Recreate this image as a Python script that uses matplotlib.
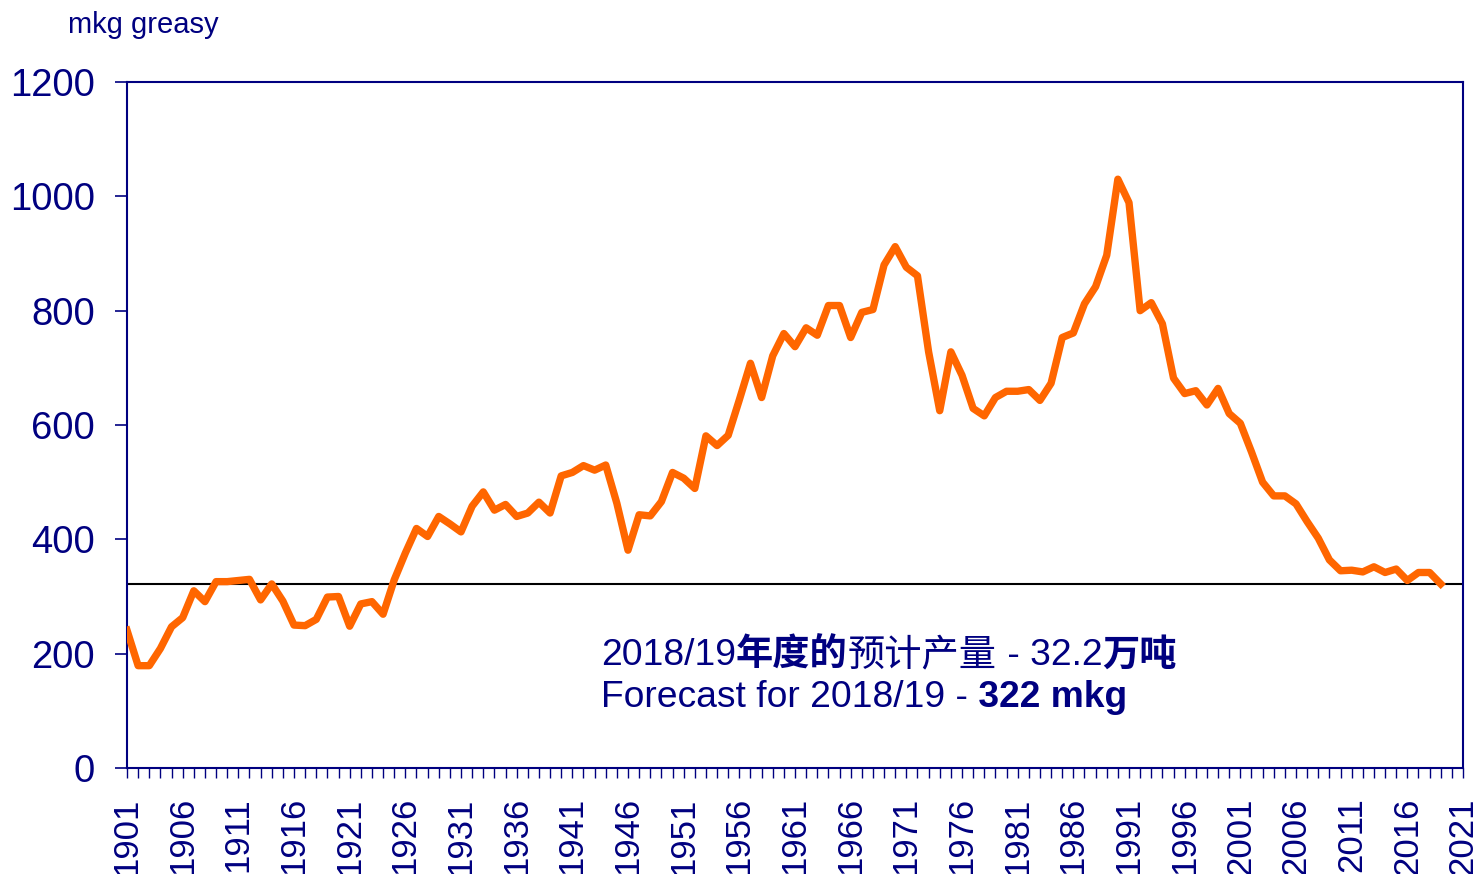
import matplotlib
matplotlib.use("Agg")
import matplotlib.pyplot as plt
from matplotlib.ticker import MultipleLocator, FixedLocator
from matplotlib.offsetbox import TextArea, HPacker, VPacker, AnnotationBbox

years = list(range(1901, 2020))
production = [
    241, 179, 179, 209, 247, 263, 310, 291, 326, 326,
    328, 330, 294, 322, 292, 250, 249, 260, 299, 300,
    248, 287, 291, 269, 329, 376, 419, 405, 440, 427,
    413, 458, 483, 451, 461, 440, 446, 465, 446, 511,
    517, 529, 521, 530, 463, 381, 443, 441, 466, 517,
    507, 489, 581, 564, 582, 644, 708, 648, 721, 760,
    737, 770, 757, 809, 809, 753, 797, 802, 880, 912,
    876, 861, 728, 625, 728, 687, 629, 616, 648, 659,
    659, 662, 643, 673, 753, 761, 812, 842, 897, 1030,
    989, 800, 814, 777, 682, 655, 660, 635, 664, 620,
    603, 553, 500, 476, 476, 462, 431, 402, 364, 345,
    346, 343, 352, 342, 348, 328, 342, 342, 322,
]
forecast = 322
tick_years = list(range(1901, 2022, 5))
y_ticks = [0, 200, 400, 600, 800, 1000, 1200]

navy = "#000080"
orange = "#FF6600"
fam = ["Liberation Sans", "Noto Sans CJK SC", "DejaVu Sans"]
plt.rcParams["font.family"] = fam

W, H = 1479, 874
fig = plt.figure(figsize=(W / 100, H / 100), dpi=100)
ax = fig.add_axes([127 / W, 1 - 768 / H, (1463 - 127) / W, (768 - 82) / H])

ax.plot(years, production, color=orange, lw=5.3, solid_joinstyle="round", zorder=3)
ax.axhline(forecast, color="black", lw=1.5, zorder=2)

ax.set_xlim(1901, 2021)
ax.set_ylim(0, 1200)
ax.xaxis.set_major_locator(FixedLocator(tick_years))
ax.xaxis.set_minor_locator(MultipleLocator(1))
ax.set_xticklabels([str(y) for y in tick_years], rotation=90, fontsize=25,
                   color=navy, va="top", ha="center")
ax.set_yticks(y_ticks)
ax.set_yticklabels([str(v) for v in y_ticks], fontsize=27.5, color=navy)
ax.tick_params(axis="y", length=9, width=1.2, color=navy, pad=14)
ax.tick_params(axis="x", which="both", length=7, width=1.0, color=navy, pad=14)
for s in ax.spines.values():
    s.set_color(navy)
    s.set_linewidth(1.5)

fig.text(68 / W, 1 - 33 / H, "mkg greasy", fontsize=21, color=navy, va="baseline", ha="left")

fs = 26.8
def ta(s, weight="normal"):
    return TextArea(s, textprops=dict(fontsize=fs, color=navy, family=fam, weight=weight))

line1 = HPacker(children=[ta("2018/19"), ta("年度的", "bold"), ta("预计产量"),
                          ta(" - 32.2"), ta("万吨", "bold")],
                align="baseline", pad=0, sep=0)
line2 = HPacker(children=[ta("Forecast for 2018/19 -"), ta(" 322 mkg", "bold")],
                align="baseline", pad=0, sep=0)
box = VPacker(children=[line1, line2], align="left", pad=0, sep=5)
ab = AnnotationBbox(box, (601 / W, 1 - 638 / H), xycoords="figure fraction",
                    box_alignment=(0, 1), frameon=False, pad=0)
fig.add_artist(ab)

fig.savefig("out.png", dpi=100, facecolor="white")
